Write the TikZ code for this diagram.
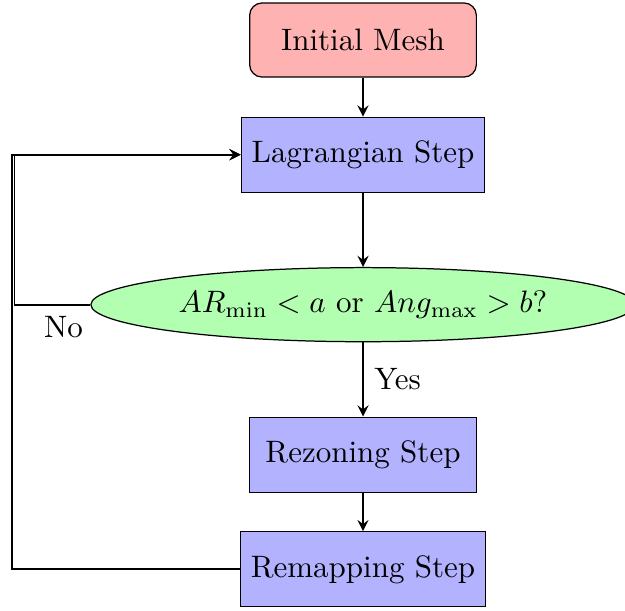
\documentclass[tikz,border=0pt]{standalone}
\usepackage{amssymb}
\usepackage{amsfonts}
\usepackage{tikz}
\usetikzlibrary{shapes.geometric}

\begin{document}
\begin{tikzpicture}[
   startbox/.style={rectangle,rounded corners,draw,fill=red!30,
    minimum width=2.57cm,minimum height=0.84cm},
   stepbox/.style={rectangle,draw,fill=blue!30,
    minimum width=2.57cm,minimum height=0.85cm},
   testbox/.style={ellipse,draw,fill=green!30,inner xsep=2.6pt,
    minimum width=6.1cm,minimum height=0.84cm},
   flow/.style={-stealth,semithick}
    ]

  \useasboundingbox (-4.115,0.4535) rectangle (2.97,-6.462);

  % -- main column
  \node[startbox] at (0,0) (init) {Initial Mesh};
  \node[stepbox] at (0,-1.3) (lagr) {Lagrangian Step};
  \node[testbox] at (0,-3) (test) {$AR_{\min} < a$ or $Ang_{\max} > b$?};
  \node[stepbox] at (0,-4.7) (rezone) {Rezoning Step};
  \node[stepbox] at (0,-6) (remap) {Remapping Step};

  % -- turning points of the loops
  \coordinate (noturn) at (-3.95,-3);
  \coordinate (remapturn) at (-3.98,-6);

  \draw[flow] (init) -- (lagr);
  \draw[flow] (lagr) -- (test);
  \draw[flow] (test) -- node[right] {Yes} (rezone);
  \draw[flow] (rezone) -- (remap);

  % -- back to the Lagrangian step
  \draw[flow] (test) -- node[below,pos=0.355] {No} (noturn) |- (lagr);
  \draw[flow] (remap) -- (remapturn) |- (lagr);

\end{tikzpicture}
\end{document}
